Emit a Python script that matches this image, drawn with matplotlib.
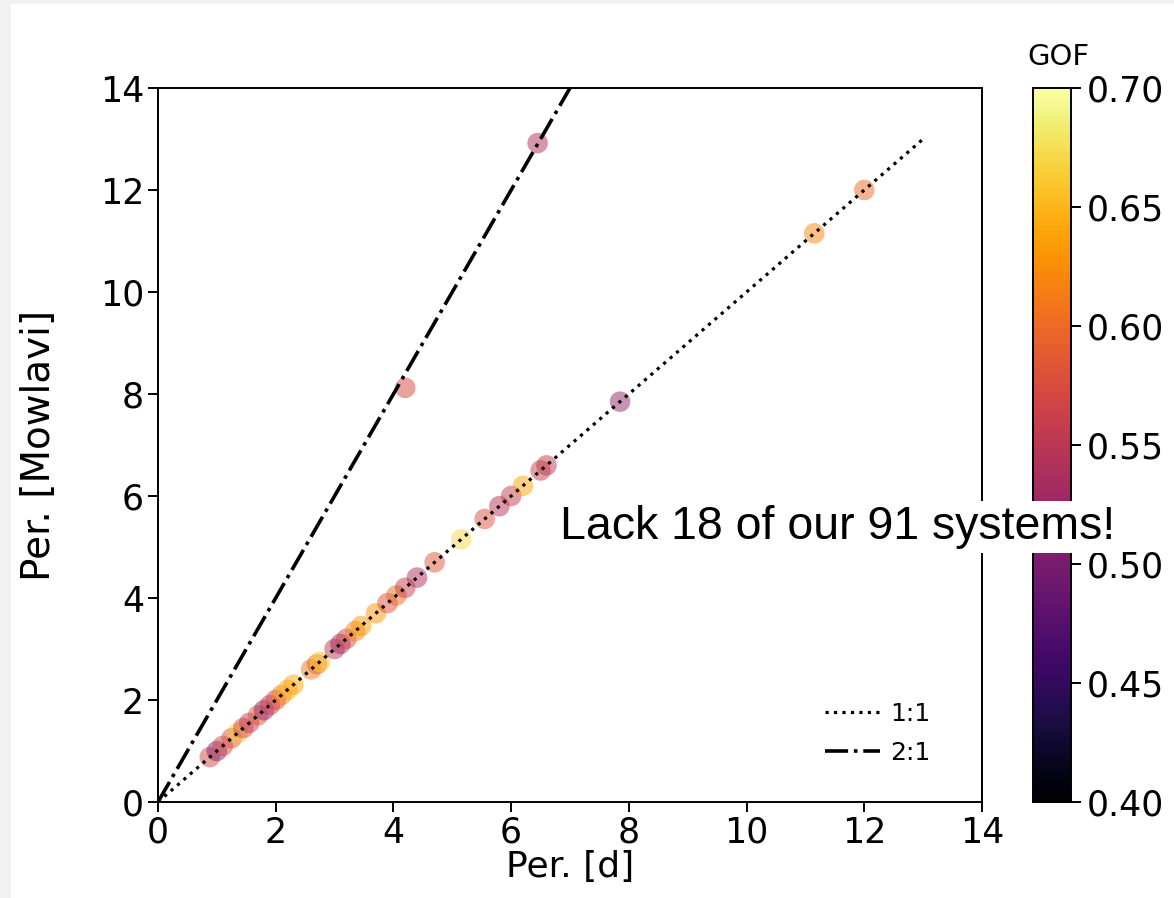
import matplotlib
matplotlib.use("Agg")
import matplotlib.pyplot as plt
import numpy as np
from matplotlib.patches import Rectangle

# ---- data ----
per_d = [0.88, 1.0, 1.1, 1.25, 1.35, 1.45, 1.55, 1.7, 1.8, 1.9, 2.0, 2.1, 2.2, 2.3,
         2.6, 2.7, 2.75, 3.0, 3.1, 3.2, 3.35, 3.45, 3.7, 3.9, 4.05, 4.2, 4.4, 4.7,
         5.15, 5.55, 5.8, 6.0, 6.2, 6.5, 6.6, 7.85, 11.15, 12.0, 4.2, 6.45]
per_mowlavi = [0.88, 1.0, 1.1, 1.25, 1.35, 1.45, 1.55, 1.7, 1.8, 1.9, 2.0, 2.1, 2.2, 2.3,
               2.6, 2.7, 2.75, 3.0, 3.1, 3.2, 3.35, 3.45, 3.7, 3.9, 4.05, 4.2, 4.4, 4.7,
               5.15, 5.55, 5.8, 6.0, 6.2, 6.5, 6.6, 7.85, 11.15, 12.0, 8.12, 12.92]
gof = [0.57, 0.51, 0.57, 0.58, 0.66, 0.57, 0.56, 0.58, 0.52, 0.56, 0.57, 0.62, 0.645, 0.64,
       0.61, 0.60, 0.66, 0.55, 0.53, 0.57, 0.62, 0.63, 0.63, 0.58, 0.60, 0.56, 0.54, 0.585,
       0.67, 0.58, 0.545, 0.56, 0.64, 0.56, 0.555, 0.52, 0.62, 0.60, 0.57, 0.54]
line11_x = [0, 13]
line21_x = [0, 7]
ticks = [0, 2, 4, 6, 8, 10, 12, 14]
cbar_ticks = [0.40, 0.45, 0.50, 0.55, 0.60, 0.65, 0.70]

W, H = 1174, 898
fig = plt.figure(figsize=(W / 100, H / 100), dpi=100)
fig.patch.set_facecolor("white")
fig.patches.append(Rectangle((0, 0), 1, 1, transform=fig.transFigure,
                             facecolor="#f1f1f1", edgecolor="none", zorder=-10))
fig.patches.append(Rectangle((11 / W, 0), 1, 1 - 4 / H, transform=fig.transFigure,
                             facecolor="white", edgecolor="none", zorder=-9))

ax = fig.add_axes([158 / W, 1 - 802 / H, (982 - 158) / W, (802 - 88) / H])
sc = ax.scatter(per_d, per_mowlavi, c=gof, cmap="inferno", vmin=0.4, vmax=0.7,
                s=220, alpha=0.5, edgecolors="none", zorder=2)
ax.plot(line11_x, line11_x, color="black", linestyle=":", lw=2.3, label="1:1", zorder=3)
ax.plot(line21_x, [2 * v for v in line21_x], color="black", linestyle="-.", lw=2.6,
        label="2:1", zorder=3)
ax.set_xlim(0, 14)
ax.set_ylim(0, 14)
ax.set_xticks(ticks)
ax.set_yticks(ticks)
ax.tick_params(labelsize=25, length=7, width=1.4, pad=3)
for sp in ax.spines.values():
    sp.set_linewidth(1.4)
ax.set_xlabel("Per. [d]", fontsize=26, labelpad=0)
ax.set_ylabel("Per. [Mowlavi]", fontsize=28, labelpad=30)
ax.legend(loc="lower right", frameon=False, fontsize=18, handlelength=2.2,
          handletextpad=0.4, labelspacing=0.6, bbox_to_anchor=(0.965, 0.02))

cax = fig.add_axes([1033 / W, 1 - 802 / H, (1071 - 1033) / W, (802 - 88) / H])
cb = fig.colorbar(sc, cax=cax, ticks=cbar_ticks)
cb.solids.set_alpha(1)
cb.ax.set_yticklabels([f"{t:.2f}" for t in cbar_ticks])
cb.ax.tick_params(labelsize=25, length=7, width=1.4, pad=4)
cb.outline.set_linewidth(1.4)
fig.text(1058 / W, 1 - 57 / H, "GOF", fontsize=21, ha="center", va="center")

fig.text(838 / W, 1 - 527 / H, "Lack 18 of our 91 systems!", fontsize=33.5,
         family="Liberation Sans", ha="center", va="center",
         bbox=dict(facecolor="white", edgecolor="none", pad=3), zorder=10)

fig.savefig("out.png", dpi=100)
